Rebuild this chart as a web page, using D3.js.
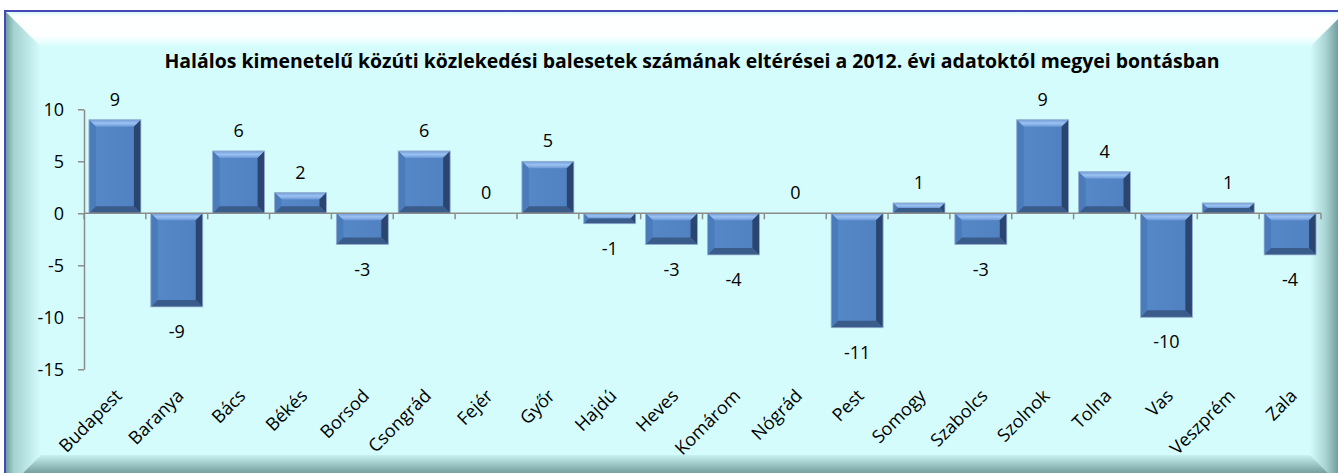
<!DOCTYPE html>
<html>
<head>
<meta charset="utf-8">
<script src="https://cdn.jsdelivr.net/npm/d3@7"></script>
<style>
  body { margin: 0; background: #fff; }
  text { font-family: "Open Sans", sans-serif; }
</style>
</head>
<body>
<div id="chart"></div>
<script>
// data
var counties = ["Budapest", "Baranya", "Bács", "Békés", "Borsod", "Csongrád", "Fejér", "Győr", "Hajdú", "Heves",
                "Komárom", "Nógrád", "Pest", "Somogy", "Szabolcs", "Szolnok", "Tolna", "Vas", "Veszprém", "Zala"];
var diffs = [9, -9, 6, 2, -3, 6, 0, 5, -1, -3, -4, 0, -11, 1, -3, 9, 4, -10, 1, -4];
var yTicks = [-15, -10, -5, 0, 5, 10];
var title = "Halálos kimenetelű közúti közlekedési balesetek számának eltérései a 2012. évi adatoktól megyei bontásban";

var W = 1338, H = 473;
var svg = d3.select("#chart").append("svg")
    .attr("width", W)
    .attr("height", H);

var defs = svg.append("defs");
function grad(id, x1, y1, x2, y2, stops) {
    var g = defs.append("linearGradient").attr("id", id)
        .attr("x1", x1).attr("y1", y1).attr("x2", x2).attr("y2", y2);
    stops.forEach(function(s){ g.append("stop").attr("offset", s[0]).attr("stop-color", s[1]); });
}
grad("gTop", 0, 0, 0, 1, [["0%", "#cdf8f8"], ["15%", "#ffffff"], ["70%", "#fdffff"], ["100%", "#d5fcfc"]]);
grad("gLeft", 0, 0, 1, 0, [["0%", "#6a9898"], ["25%", "#a6d2d2"], ["100%", "#d5fcfc"]]);
grad("gRight", 0, 0, 1, 0, [["0%", "#d5fcfc"], ["45%", "#a8d2d2"], ["100%", "#4f7b7b"]]);
grad("gBottom", 0, 0, 0, 1, [["0%", "#c8f2f2"], ["45%", "#7ea6a6"], ["100%", "#4a7070"]]);
// bar bevels
grad("bTop", 0, 0, 0, 1, [["0%", "#6f9bd6"], ["50%", "#9cc2f2"], ["100%", "#6a98d6"]]);
grad("bFace", 0, 0, 1, 0, [["0%", "#5689c9"], ["100%", "#5080bf"]]);

// frame
var fx0 = 5, fy0 = 11, fx1 = 1346, fy1 = 491, fb = 36;
svg.append("rect").attr("x", fx0).attr("y", fy0).attr("width", fx1 - fx0).attr("height", fy1 - fy0)
    .attr("fill", "#d5fcfc");
function poly(pts, fill) {
    svg.append("polygon").attr("points", pts.map(function(p){ return p.join(","); }).join(" "))
        .attr("fill", fill);
}
poly([[fx0, fy0], [fx1, fy0], [fx1 - fb, fy0 + fb], [fx0 + fb, fy0 + fb]], "url(#gTop)");
poly([[fx0, fy0], [fx0 + fb, fy0 + fb], [fx0 + fb, fy1 - fb], [fx0, fy1]], "url(#gLeft)");
poly([[fx1, fy0], [fx1 - fb, fy0 + fb], [fx1 - fb, fy1 - fb], [fx1, fy1]], "url(#gRight)");
poly([[fx0, fy1], [fx0 + fb, fy1 - fb], [fx1 - fb, fy1 - fb], [fx1, fy1]], "url(#gBottom)");
svg.append("rect").attr("x", fx0).attr("y", fy0).attr("width", fx1 - fx0).attr("height", fy1 - fy0)
    .attr("fill", "none").attr("stroke", "#4848b4").attr("stroke-width", 2);

// title
svg.append("text")
    .attr("x", 692).attr("y", 68)
    .attr("text-anchor", "middle")
    .attr("font-size", "20px")
    .attr("font-weight", "bold")
    .attr("textLength", 1055)
    .attr("lengthAdjust", "spacingAndGlyphs")
    .text(title);

// scales
var x = d3.scaleBand()
    .domain(counties)
    .range([84, 1321])
    .paddingInner(0.16)
    .paddingOuter(0.08);
var y = d3.scaleLinear()
    .domain([-15, 10])
    .range([369.3, 109.3]);

// y axis
var yAxis = svg.append("g")
    .attr("transform", "translate(84,0)")
    .call(d3.axisLeft(y).tickValues(yTicks).tickSize(6).tickSizeOuter(0).tickPadding(14)
        .tickFormat(function(d){ return String(d); }));
yAxis.select(".domain").attr("stroke", "#8c8c8c").attr("stroke-width", 1.5);
yAxis.selectAll(".tick line").attr("stroke", "#8c8c8c").attr("stroke-width", 1.5);
yAxis.selectAll(".tick text").attr("font-size", "18px").attr("fill", "#000")
    .style("font-family", "'Open Sans', sans-serif");

// bars
var data = counties.map(function(c, i){ return {name: c, v: diffs[i]}; });
var bars = svg.append("g");
data.forEach(function(d){
    if (d.v === 0) return;
    var x0 = x(d.name), x1 = x0 + x.bandwidth();
    var y0 = Math.min(y(d.v), y(0)), y1 = Math.max(y(d.v), y(0));
    var h = y1 - y0, b = Math.min(7, h / 2);
    var g = bars.append("g");
    function bp(pts, fill) {
        g.append("polygon").attr("points", pts.map(function(p){ return p.join(","); }).join(" ")).attr("fill", fill);
    }
    g.append("rect").attr("x", x0).attr("y", y0).attr("width", x1 - x0).attr("height", h).attr("fill", "url(#bFace)");
    bp([[x0, y0], [x1, y0], [x1 - b, y0 + b], [x0 + b, y0 + b]], "url(#bTop)");
    bp([[x0, y0], [x0 + b, y0 + b], [x0 + b, y1 - b], [x0, y1]], "#4a7bbb");
    bp([[x1, y0], [x1 - b, y0 + b], [x1 - b, y1 - b], [x1, y1]], "#2a4670");
    bp([[x0, y1], [x0 + b, y1 - b], [x1 - b, y1 - b], [x1, y1]], "#3a5c8a");
    g.append("rect").attr("x", x0).attr("y", y0).attr("width", x1 - x0).attr("height", h)
        .attr("fill", "none").attr("stroke", "#9fb6d2").attr("stroke-width", 0.8);
});

// x axis at zero
var xAxis = svg.append("g").attr("transform", "translate(0," + y(0) + ")");
xAxis.append("line").attr("x1", 84).attr("x2", 1321).attr("stroke", "#8c8c8c").attr("stroke-width", 1.5);
xAxis.selectAll("line.tk")
    .data(d3.range(counties.length + 1))
    .enter().append("line")
    .attr("class", "tk")
    .attr("x1", function(i){ return i < counties.length ? x(counties[i]) - x.step() * x.paddingInner() / 2 : 1321; })
    .attr("x2", function(i){ return i < counties.length ? x(counties[i]) - x.step() * x.paddingInner() / 2 : 1321; })
    .attr("y1", 0).attr("y2", 6)
    .attr("stroke", "#8c8c8c").attr("stroke-width", 1.5);

// data labels
svg.append("g").selectAll("text")
    .data(data)
    .enter().append("text")
    .attr("x", function(d){ return x(d.name) + x.bandwidth() / 2; })
    .attr("y", function(d){ return d.v >= 0 ? y(d.v) - 14 : y(d.v) + 31; })
    .attr("text-anchor", "middle")
    .attr("font-size", "18px")
    .text(function(d){ return d.v; });

// category labels
svg.append("g").selectAll("text")
    .data(counties)
    .enter().append("text")
    .attr("transform", function(d){
        return "translate(" + (x(d) + x.bandwidth() / 2 + 8) + ",397) rotate(-45)";
    })
    .attr("text-anchor", "end")
    .attr("font-size", "18px")
    .text(function(d){ return d; });
</script>
</body>
</html>
